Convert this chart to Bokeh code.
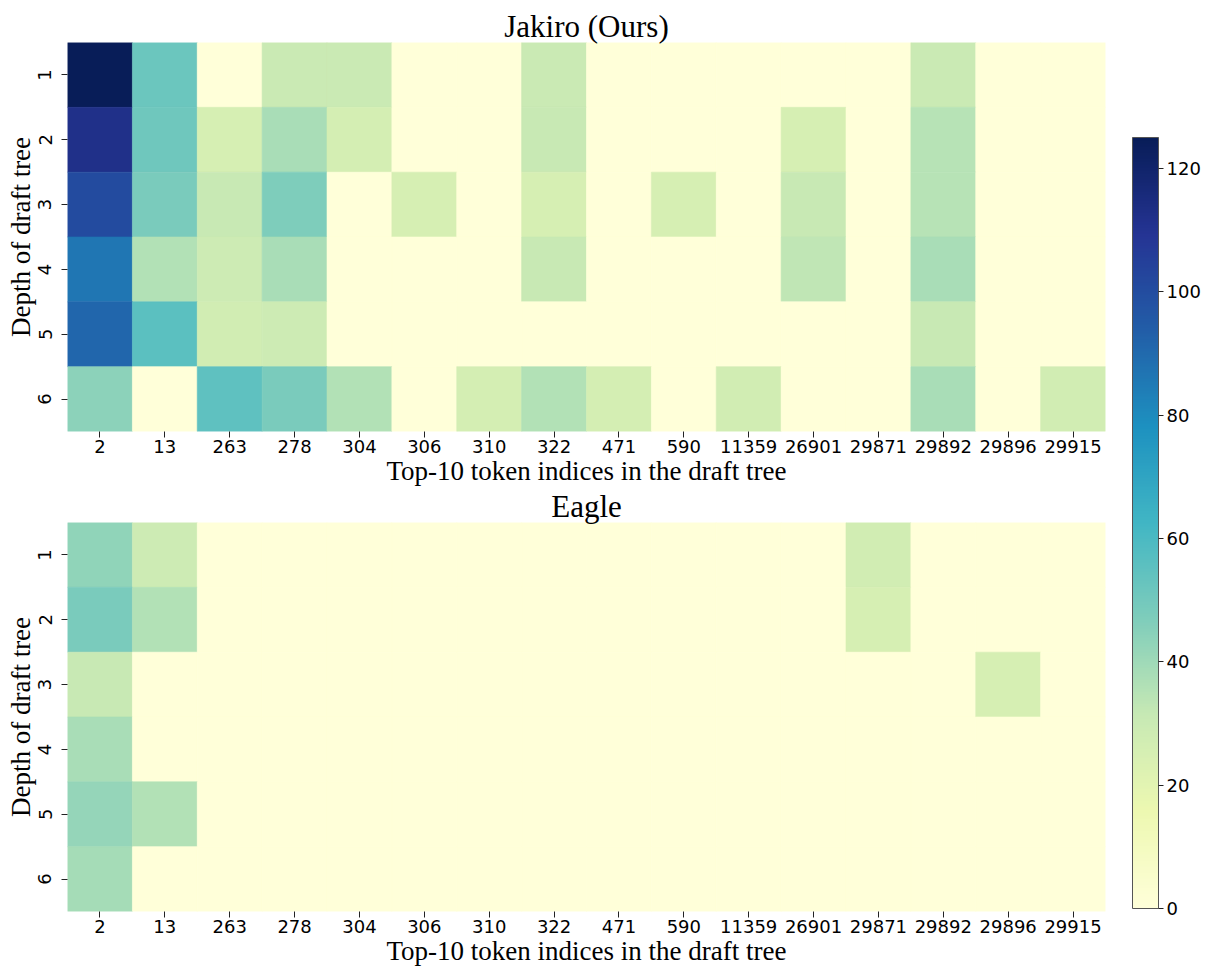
import numpy as np
from bokeh.plotting import figure
from bokeh.models import ColumnDataSource, LinearColorMapper, ColorBar, FixedTicker, FactorRange
from bokeh.layouts import row, column
from bokeh.transform import transform
from bokeh.embed import file_html
from bokeh.resources import INLINE

# ---------------- data ----------------
tokens = ["2", "13", "263", "278", "304", "306", "310", "322", "471", "590",
          "11359", "26901", "29871", "29892", "29896", "29915"]
depths = ["1", "2", "3", "4", "5", "6"]

jakiro_d1 = [125, 52, 0, 30, 30, 0, 0, 30, 0, 0, 0, 0, 0, 30, 0, 0]
jakiro_d2 = [112, 51, 25, 38, 26, 0, 0, 31, 0, 0, 0, 25, 0, 35, 0, 0]
jakiro_d3 = [101, 48, 31, 47, 0, 25, 0, 25, 0, 25, 0, 31, 0, 35, 0, 0]
jakiro_d4 = [86, 36, 29, 38, 0, 0, 0, 31, 0, 0, 0, 33, 0, 38, 0, 0]
jakiro_d5 = [91, 56, 27, 29, 0, 0, 0, 0, 0, 0, 0, 0, 0, 31, 0, 0]
jakiro_d6 = [44, 0, 55, 48, 36, 0, 26, 36, 26, 0, 27, 0, 0, 38, 0, 27]

eagle_d1 = [43, 29, 0, 0, 0, 0, 0, 0, 0, 0, 0, 0, 27, 0, 0, 0]
eagle_d2 = [48, 36, 0, 0, 0, 0, 0, 0, 0, 0, 0, 0, 25, 0, 0, 0]
eagle_d3 = [31, 0, 0, 0, 0, 0, 0, 0, 0, 0, 0, 0, 0, 0, 25, 0]
eagle_d4 = [38, 0, 0, 0, 0, 0, 0, 0, 0, 0, 0, 0, 0, 0, 0, 0]
eagle_d5 = [42, 36, 0, 0, 0, 0, 0, 0, 0, 0, 0, 0, 0, 0, 0, 0]
eagle_d6 = [39, 0, 0, 0, 0, 0, 0, 0, 0, 0, 0, 0, 0, 0, 0, 0]

titles = ["Jakiro (Ours)", "Eagle"]
x_label = "Top-10 token indices in the draft tree"
y_label = "Depth of draft tree"
cb_ticks = [0, 20, 40, 60, 80, 100, 120]
v_low, v_high = 0, 125

# ---------------- colormap (YlGnBu) ----------------
anchors = ["#ffffd9", "#edf8b1", "#c7e9b4", "#7fcdbb", "#41b6c4",
           "#1d91c0", "#225ea8", "#253494", "#081d58"]


def hex2rgb(h):
    return [int(h[i:i + 2], 16) for i in (1, 3, 5)]


def build_palette(n=256):
    arr = np.array([hex2rgb(a) for a in anchors], dtype=float)
    pos = np.linspace(0, 1, len(anchors))
    t = np.linspace(0, 1, n)
    out = []
    for ti in t:
        c = [np.interp(ti, pos, arr[:, k]) for k in range(3)]
        out.append("#%02x%02x%02x" % tuple(int(round(v)) for v in c))
    return out


palette = build_palette()
mapper = LinearColorMapper(palette=palette, low=v_low, high=v_high)

SERIF = "Liberation Serif"
SANS = "DejaVu Sans"


def heatmap(title, rows, top_border):
    xs, ys, vs = [], [], []
    for d, r in zip(depths, rows):
        for t, v in zip(tokens, r):
            xs.append(t)
            ys.append(d)
            vs.append(v)
    src = ColumnDataSource(dict(token=xs, depth=ys, value=vs))
    p = figure(x_range=FactorRange(*tokens), y_range=FactorRange(*depths[::-1]),
               frame_width=1038, frame_height=389,
               output_backend="svg", toolbar_location=None,
               min_border_left=67, min_border_right=10, min_border_top=top_border,
               min_border_bottom=0)
    p.rect(x="token", y="depth", width=1, height=1, source=src,
           fill_color=transform("value", mapper),
           line_color=transform("value", mapper), line_width=0.6)
    p.title.text = title
    p.title.align = "center"
    p.title.text_font = SERIF
    p.title.text_font_size = "31px"
    p.title.text_font_style = "normal"
    p.title.text_color = "black"
    p.title.standoff = -3
    p.outline_line_color = None
    p.grid.grid_line_color = None
    for ax in (p.xaxis[0], p.yaxis[0]):
        ax.axis_line_color = None
        ax.major_tick_line_color = "#222222"
        ax.major_tick_out = 6
        ax.major_tick_in = 0
        ax.minor_tick_line_color = None
        ax.major_label_text_font = SANS
        ax.major_label_text_font_size = "18px"
        ax.major_label_text_color = "black"
        ax.axis_label_text_font = SERIF
        ax.axis_label_text_font_size = "27px"
        ax.axis_label_text_font_style = "normal"
        ax.axis_label_text_color = "black"
        ax.major_label_standoff = 2
        ax.axis_label_standoff = 0
    p.yaxis.major_label_standoff = 10
    p.xaxis.axis_label = x_label
    p.yaxis.axis_label = y_label
    p.yaxis.major_label_orientation = "vertical"
    return p


p1 = heatmap(titles[0], [jakiro_d1, jakiro_d2, jakiro_d3, jakiro_d4, jakiro_d5, jakiro_d6], 42)
p2 = heatmap(titles[1], [eagle_d1, eagle_d2, eagle_d3, eagle_d4, eagle_d5, eagle_d6], 0)

pc = figure(width=90, height=970, output_backend="svg", toolbar_location=None,
            min_border=0, x_axis_location=None, y_axis_location=None)
pc.outline_line_color = None
pc.grid.grid_line_color = None
cb = ColorBar(color_mapper=mapper, ticker=FixedTicker(ticks=cb_ticks),
              width=26, height=771, location=(17, 62), padding=0, margin=0,
              major_label_text_font=SANS, major_label_text_font_size="18px",
              major_label_text_color="black",
              major_tick_out=5, major_tick_in=0, major_tick_line_color="#222222",
              bar_line_color="#555555", bar_line_width=1,
              border_line_color=None, background_fill_color=None,
              label_standoff=3)
pc.add_layout(cb, "center")

layout = row(column(p1, p2), pc)
open("out.html", "w").write(file_html(layout, INLINE))
